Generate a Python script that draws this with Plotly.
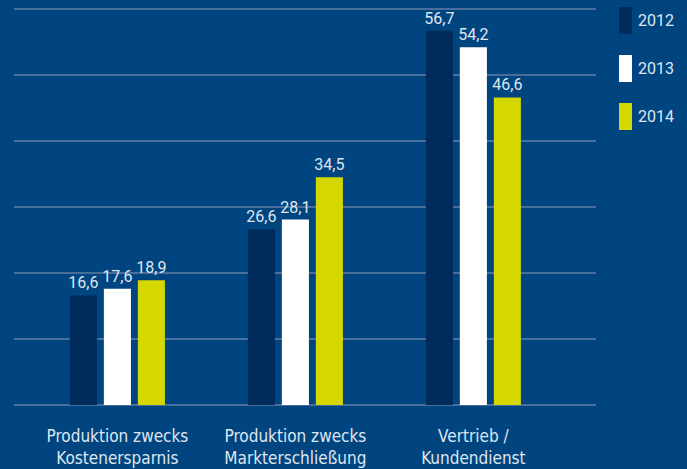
import plotly.graph_objects as go

# Survey data: share per category and year
categories = ["Produktion zwecks<br>Kostenersparnis",
              "Produktion zwecks<br>Markterschließung",
              "Vertrieb /<br>Kundendienst"]
years = ["2012", "2013", "2014"]
values_2012 = [16.6, 26.6, 56.7]
values_2013 = [17.6, 28.1, 54.2]
values_2014 = [18.9, 34.5, 46.6]

series = [values_2012, values_2013, values_2014]
colors = ["#002b5a", "#ffffff", "#d4d700"]

BG = "#004580"
TEXT = "#dfe6ef"
GRID = "#4a6e9b"

x_pos = list(range(len(categories)))

# plot area: x 14..596 px, baseline at 405 px, 6.6 px per unit
TOP_PX = 2
Y_MAX = (405 - TOP_PX) / 6.6

fig = go.Figure()
for name, vals, col in zip(years, series, colors):
    fig.add_trace(go.Bar(
        x=x_pos, y=vals, name=name,
        marker=dict(color=col, line=dict(width=0)),
        text=[f"{v:.1f}".replace(".", ",") for v in vals],
        textposition="outside",
        constraintext="none",
        textfont=dict(family="Roboto", size=16, color=TEXT),
        cliponaxis=False,
        showlegend=False,
    ))

fig.update_layout(
    template="none",
    width=687, height=469,
    margin=dict(l=14, r=91, t=TOP_PX, b=64),
    paper_bgcolor=BG, plot_bgcolor=BG,
    barmode="group", bargap=0.427, bargroupgap=0.204,
    xaxis=dict(
        range=[-0.581, 2.689],
        tickvals=x_pos, ticktext=categories,
        tickfont=dict(family="DejaVu Sans Condensed", size=17, color=TEXT),
        showgrid=False, zeroline=False, showline=False,
        ticks="", ticklabelstandoff=19, automargin=False,
    ),
    yaxis=dict(
        range=[0, Y_MAX], tickvals=[10, 20, 30, 40, 50, 60],
        showgrid=True, gridcolor=GRID, gridwidth=2,
        zeroline=True, zerolinecolor=GRID, zerolinewidth=2,
        showticklabels=False, showline=False, ticks="", automargin=False,
    ),
)

# Legend drawn as tall colour blocks with year labels (pixel positions)
def px_x(px):
    return (px - 14) / 582

def px_y(py):
    return (405 - py) / (405 - TOP_PX)

legend_tops = [7, 55, 103]
for name, col, top in zip(years, colors, legend_tops):
    fig.add_shape(type="rect", xref="paper", yref="paper",
                  x0=px_x(619), x1=px_x(632),
                  y0=px_y(top + 27), y1=px_y(top),
                  fillcolor=col, line=dict(width=0), layer="above")
    fig.add_annotation(xref="paper", yref="paper",
                       x=px_x(636), y=px_y(top + 13.5),
                       xanchor="left", yanchor="middle", showarrow=False,
                       text=name, font=dict(family="Roboto", size=16, color=TEXT))

fig.write_html("out.html")
